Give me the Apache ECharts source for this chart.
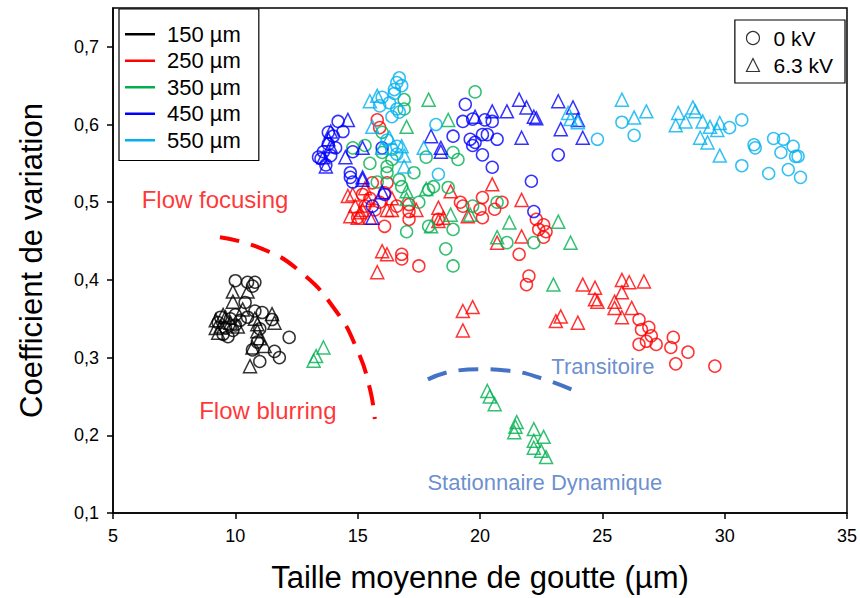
<!DOCTYPE html>
<html><head><meta charset="utf-8">
<script src="https://cdn.jsdelivr.net/npm/echarts@6/dist/echarts.min.js"></script>
<style>html,body{margin:0;padding:0;background:#fff}#c{width:860px;height:598px}</style>
</head><body><div id="c"></div>
<script>
const xTicks = [5,10,15,20,25,30,35];
const yTicks = [0.1,0.2,0.3,0.4,0.5,0.6,0.7];
const sizes = ['150 µm','250 µm','350 µm','450 µm','550 µm'];
const voltages = ['0 kV','6.3 kV'];

const black0 = [[10.0,0.399],[10.5,0.397],[10.7,0.392],[10.8,0.397],[10.4,0.371],[10.5,0.352],[11.1,0.358],[11.5,0.349],[12.2,0.326],[11.6,0.308],[11.8,0.300],[11.0,0.295],[10.7,0.310],[9.3,0.345],[9.6,0.338],[9.8,0.350],[10.0,0.342],[9.5,0.330],[9.9,0.335],[10.2,0.348],[9.4,0.352],[10.0,0.355],[9.7,0.327],[10.9,0.320],[11.0,0.337],[10.8,0.360]];
const black63 = [[9.9,0.385],[10.5,0.385],[9.9,0.372],[10.3,0.362],[11.5,0.356],[11.6,0.345],[10.9,0.343],[10.9,0.334],[10.7,0.313],[10.6,0.289],[9.2,0.348],[9.4,0.340],[9.6,0.352],[9.3,0.332],[9.8,0.345],[9.5,0.355],[10.1,0.340],[9.2,0.338],[11.0,0.325],[10.8,0.350],[11.2,0.315]];
const red0 = [[15.8,0.606],[15.9,0.596],[16.2,0.525],[17.1,0.497],[17.1,0.488],[17.1,0.478],[16.1,0.469],[16.6,0.495],[19.2,0.500],[19.3,0.495],[16.8,0.433],[16.8,0.427],[17.5,0.418],[20.1,0.506],[20.0,0.491],[20.1,0.480],[20.6,0.491],[20.9,0.500],[22.3,0.478],[22.6,0.471],[22.4,0.465],[22.7,0.462],[22.6,0.455],[21.6,0.433],[22.0,0.405],[21.9,0.394],[26.5,0.349],[26.6,0.336],[26.9,0.339],[27.0,0.328],[26.8,0.321],[26.5,0.317],[27.2,0.317],[27.9,0.326],[27.8,0.313],[28.5,0.307],[28.0,0.292],[29.6,0.289],[15.2,0.510],[15.5,0.505],[15.7,0.490],[15.3,0.495],[15.9,0.500],[15.6,0.525],[16.1,0.512],[15.0,0.480],[18.3,0.478]];
const red63 = [[14.6,0.508],[14.9,0.495],[14.7,0.482],[15.1,0.487],[14.8,0.510],[15.3,0.518],[15.4,0.503],[16.4,0.505],[16.4,0.490],[16.2,0.490],[17.4,0.490],[18.3,0.493],[18.8,0.514],[18.5,0.480],[18.3,0.476],[16.0,0.437],[16.2,0.433],[15.8,0.410],[20.5,0.523],[21.7,0.503],[21.7,0.456],[20.7,0.448],[19.5,0.482],[15.0,0.480],[15.5,0.480],[15.2,0.490],[19.3,0.360],[19.7,0.365],[19.3,0.335],[23.1,0.347],[23.3,0.353],[24.0,0.345],[24.2,0.394],[24.7,0.390],[24.7,0.375],[24.8,0.372],[25.8,0.400],[26.1,0.397],[26.7,0.398],[25.8,0.384],[25.5,0.372],[25.5,0.364],[26.2,0.364],[25.8,0.352]];
const green0 = [[19.8,0.642],[16.9,0.632],[15.3,0.573],[16.0,0.564],[16.4,0.555],[16.2,0.546],[17.8,0.558],[18.9,0.564],[19.1,0.555],[17.3,0.538],[16.7,0.529],[15.8,0.526],[16.8,0.520],[17.9,0.516],[18.1,0.520],[18.7,0.519],[17.0,0.462],[17.9,0.469],[18.9,0.465],[18.6,0.440],[18.9,0.418],[20.7,0.500],[19.7,0.495],[21.1,0.448],[22.2,0.448],[14.8,0.570],[16.0,0.590],[15.5,0.550],[17.5,0.500],[16.9,0.620],[16.2,0.538]];
const green63 = [[17.9,0.632],[17.0,0.597],[18.7,0.606],[17.0,0.504],[17.8,0.517],[17.0,0.514],[18.8,0.484],[18.0,0.469],[19.6,0.484],[20.7,0.455],[21.2,0.474],[23.2,0.475],[23.7,0.448],[23.0,0.394],[20.3,0.257],[20.4,0.250],[20.6,0.240],[21.5,0.217],[21.45,0.211],[21.4,0.204],[22.2,0.208],[22.2,0.193],[22.6,0.198],[22.2,0.184],[22.5,0.180],[22.7,0.172],[13.2,0.296],[13.3,0.302],[13.6,0.313]];
const blue0 = [[13.5,0.556],[13.6,0.565],[13.8,0.575],[14.0,0.585],[13.7,0.548],[14.2,0.604],[14.4,0.591],[13.9,0.560],[14.1,0.570],[13.4,0.558],[13.8,0.590],[16.0,0.570],[14.8,0.565],[14.7,0.538],[14.7,0.532],[14.8,0.526],[15.6,0.495],[16.1,0.510],[19.4,0.626],[19.3,0.604],[19.7,0.607],[20.2,0.606],[20.5,0.604],[18.9,0.585],[19.6,0.581],[19.8,0.577],[20.1,0.587],[20.3,0.587],[20.7,0.581],[20.1,0.561],[20.5,0.545],[23.2,0.561],[22.1,0.527],[22.2,0.488],[19.7,0.573]];
const blue63 = [[14.6,0.606],[13.9,0.591],[13.8,0.581],[13.7,0.546],[14.5,0.558],[15.2,0.570],[18.0,0.585],[15.2,0.532],[21.6,0.632],[21.9,0.622],[22.2,0.610],[22.3,0.608],[21.1,0.617],[20.5,0.617],[19.8,0.610],[23.2,0.630],[23.8,0.622],[24.0,0.606],[23.3,0.594],[24.2,0.583],[21.7,0.583],[18.4,0.570],[18.4,0.565],[15.2,0.529],[16.0,0.513],[15.6,0.480],[13.6,0.558],[13.9,0.572]];
const cyan0 = [[16.7,0.660],[16.6,0.654],[16.5,0.645],[16.3,0.628],[16.6,0.620],[16.7,0.616],[16.4,0.610],[16.0,0.635],[15.9,0.624],[16.5,0.640],[16.8,0.650],[16.6,0.572],[16.4,0.568],[16.6,0.562],[18.2,0.600],[18.3,0.536],[24.8,0.581],[25.8,0.603],[26.3,0.586],[30.2,0.596],[30.7,0.606],[31.2,0.574],[31.25,0.570],[32.0,0.582],[32.4,0.581],[32.8,0.572],[32.3,0.564],[32.9,0.559],[33.0,0.559],[30.7,0.547],[31.8,0.537],[32.6,0.542],[33.1,0.532],[16.2,0.580]];
const cyan63 = [[15.5,0.630],[15.6,0.597],[15.8,0.637],[16.3,0.583],[16.8,0.572],[16.9,0.560],[16.9,0.546],[17.7,0.570],[16.0,0.570],[23.6,0.615],[23.7,0.607],[24.0,0.603],[25.8,0.632],[26.3,0.609],[26.8,0.617],[28.1,0.615],[28.0,0.599],[28.4,0.604],[28.7,0.622],[28.8,0.617],[29.1,0.604],[29.4,0.597],[29.7,0.593],[29.8,0.602],[29.0,0.583],[29.3,0.577],[29.8,0.560]];

const redArc = [[9.37,0.455],[11.1,0.440],[12.64,0.411],[14.07,0.362],[14.97,0.311],[15.5,0.260],[15.7,0.221]];
const blueArc = [[17.87,0.272],[18.98,0.283],[20.0,0.285],[21.2,0.283],[22.65,0.272],[23.96,0.256]];
const annotations = [
  {name:'Flow focusing', value:[9.17,0.504], color:'#FF0000', size:24},
  {name:'Flow blurring', value:[11.33,0.232], color:'#FF0000', size:24},
  {name:'Transitoire', value:[25.02,0.289], color:'#4472C4', size:22},
  {name:'Stationnaire Dynamique', value:[22.65,0.139], color:'#4472C4', size:22}
];

const colors = ['#000000','#FF0000','#00B050','#0000FF','#00B0F0'];
const groups = [[black0,black63],[red0,red63],[green0,green63],[blue0,blue63],[cyan0,cyan63]];
const FONT = 'Liberation Sans, Arial, sans-serif';
const fmt = v => (Math.round(v*10)/10).toFixed(1).replace('.', ',');

const series = [];
groups.forEach((g,i)=>{
  [0,1].forEach(k=>{
    series.push({
      type:'scatter', name: sizes[i]+' '+voltages[k], data:g[k],
      symbol: k===0?'circle':'triangle', symbolSize: k===0?12:13,
      itemStyle:{color:'rgba(0,0,0,0)', borderColor:colors[i], borderWidth:1.5},
      emphasis:{disabled:true}, silent:true, z:3
    });
  });
});
sizes.forEach((s,i)=>series.push({type:'line', name:s, data:[], symbol:'none', color:colors[i], lineStyle:{width:2.5, color:colors[i]}}));
voltages.forEach((v,k)=>series.push({type:'scatter', name:v, data:[], symbol:k===0?'circle':'triangle', itemStyle:{color:'rgba(0,0,0,0)', borderColor:'#000', borderWidth:1.2}}));
series.push({type:'line', name:'redArc', data:redArc, smooth:true, symbol:'none', silent:true, z:2,
  lineStyle:{color:'#FF0000', width:4, type:[20,12]}});
series.push({type:'line', name:'blueArc', data:blueArc, smooth:true, symbol:'none', silent:true, z:2,
  lineStyle:{color:'#4472C4', width:4, type:[20,12]}});
series.push({type:'scatter', name:'annot', symbolSize:1, silent:true, z:4,
  itemStyle:{color:'rgba(0,0,0,0)'},
  data: annotations.map(a=>({name:a.name, value:a.value, label:{color:a.color, fontSize:a.size}})),
  label:{show:true, position:'inside', formatter:'{b}', fontFamily:FONT}});

const chart = echarts.init(document.getElementById('c'), null, {renderer:'svg'});
chart.setOption({
  animation:false,
  backgroundColor:'#fff',
  grid:{left:113, right:13, top:8, bottom:84, show:true, borderColor:'#000', borderWidth:1.5, backgroundColor:'transparent'},
  xAxis:{type:'value', min:5, max:35, interval:5,
    name:'Taille moyenne de goutte (µm)', nameLocation:'middle', nameGap:49,
    nameTextStyle:{fontSize:31, color:'#000', fontFamily:FONT},
    axisLine:{lineStyle:{color:'#000', width:1.5}},
    axisTick:{show:true, length:6, lineStyle:{color:'#000', width:1.5}, customValues:xTicks},
    axisLabel:{color:'#000', fontSize:18, fontFamily:FONT, margin:14, customValues:xTicks},
    splitLine:{show:false}},
  yAxis:{type:'value', min:0.1, max:0.75, interval:0.1,
    name:'Coefficient de variation', nameLocation:'middle', nameGap:66,
    nameTextStyle:{fontSize:31, color:'#000', fontFamily:FONT},
    axisLine:{lineStyle:{color:'#000', width:1.5}},
    axisTick:{show:true, length:6, lineStyle:{color:'#000', width:1.5}, customValues:yTicks},
    axisLabel:{color:'#000', fontSize:18, fontFamily:FONT, margin:14, customValues:yTicks, formatter:fmt},
    splitLine:{show:false}},
  legend:[
    {data:sizes.map((s,i)=>({name:s, icon:'rect', itemStyle:{color:colors[i]}})), orient:'vertical', left:119, top:9, itemWidth:30, itemHeight:2.5, itemGap:4,
     padding:[14,18,9,6], borderColor:'#000', borderWidth:1.2, backgroundColor:'#fff',
     textStyle:{fontSize:22, fontFamily:FONT, color:'#000', lineHeight:22.5, padding:[0,0,0,7]}, selectedMode:false},
    {data:voltages.map(v=>({name:v, icon:v==='0 kV'?'circle':'triangle', itemStyle:{color:'rgba(0,0,0,0)', borderColor:'#000', borderWidth:1.2}})),
     orient:'vertical', right:15, top:20, itemWidth:13, itemHeight:13, itemGap:5,
     padding:[7,12,7,11], borderColor:'#000', borderWidth:1.2, backgroundColor:'#fff',
     textStyle:{fontSize:21, fontFamily:FONT, color:'#000', lineHeight:22, padding:[0,0,0,9]}, selectedMode:false}
  ],
  series: series
});
</script></body></html>
